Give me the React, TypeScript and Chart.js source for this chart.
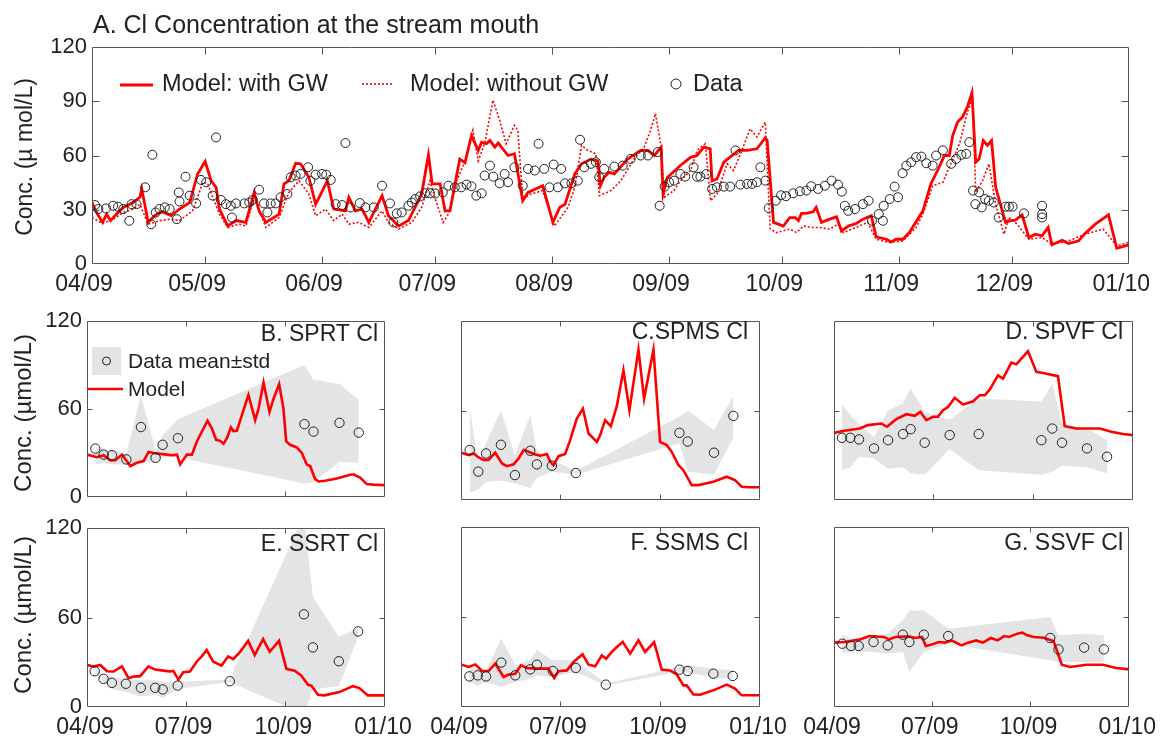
import React, { useEffect, useRef } from "react";
import { Chart, registerables } from "chart.js";

Chart.register(...registerables);

const FONT = "'Liberation Sans', Arial, Helvetica, sans-serif";
Chart.defaults.font.family = FONT;
Chart.defaults.color = "#222";

const RED = "rgb(255,0,0)";
const BAND = "#e3e4e6";
const AXIS = "#555";
const INK = "#222";

// ---------- tick definitions (days since 1 Apr 2009) ----------
const monthTicks = [0, 30, 61, 91, 122, 153, 183, 214, 244, 275];
const monthLabels = ["04/09", "05/09", "06/09", "07/09", "08/09", "09/09", "10/09", "11/09", "12/09", "01/10"];
const quarterTicks = [0, 91, 183, 275];
const quarterLabels = ["04/09", "07/09", "10/09", "01/10"];
const topYTicks = [0, 30, 60, 90, 120];
const smallYTicks = [0, 60, 120];

// ---------- Panel A : stream mouth ----------
const aGwDays = [
  0, 1.2, 2.8, 3.9, 4.9, 6.5, 8.3, 10.9, 12.7, 13.2,
  14.9, 16.6, 18.4, 21, 23.2, 25.9, 28, 30, 31.6, 32.9,
  33.8, 36, 38.2, 40.8, 43, 44.3, 46.1, 49.6, 50.9, 52.2,
  54, 55.3, 57.5, 59.3, 62.4, 64.1, 67.2, 68.1, 69.8, 71.6,
  73.4, 76.9, 78.6, 81.3, 83.9, 87.4, 89.2, 90.2, 92.3, 93.6,
  94.9, 97.5, 98.9, 100.6, 102.4, 103.3, 104.6, 105.5, 106.8, 107.7,
  110.3, 112, 114.2, 115.6, 119.5, 122.2, 124, 125.4, 128, 129.8,
  132.3, 134.1, 134.8, 135.8, 137.1, 138.5, 142, 145.5, 147.4, 149.1,
  150.9, 151.4, 152.6, 156, 158.7, 160.4, 162.2, 163.9, 164.4, 165.7,
  167.5, 171.4, 173.7, 176.3, 178.5, 179, 180.7, 183.3, 185, 186.4,
  187.3, 188.1, 189.4, 191.2, 192, 193.4, 195.6, 197.4, 198.7, 200.5,
  202.6, 204.4, 206.6, 207.9, 210.6, 211.9, 213.2, 215, 216.7, 220.3,
  222.4, 224.6, 226, 227.3, 228.2, 229.5, 230.8, 232.1, 233.3, 234.3,
  235.2, 236.3, 237.4, 238.5, 239.6, 242.2, 243.5, 244.8, 246.6, 248.4,
  250.1, 251.9, 253.5, 254.5, 257.2, 258.9, 261.6, 263.3, 266, 269.5,
  271.7, 274.8,
];
const aGwValues = [
  34, 28.5, 23, 27.6, 24, 27.6, 31.3, 34, 37, 41.5,
  23, 26.7, 29, 26.7, 30.4, 34, 49.8, 56.7, 46, 42.4,
  30.4, 21, 24, 23, 39.6, 29.4, 23, 27.6, 44.3, 46,
  55.7, 55.4, 48, 33, 46, 30.4, 29.4, 36.9, 29.4, 30.4,
  23, 37.8, 26.7, 21, 24, 38.7, 60.4, 44.3, 44.3, 29.4,
  29.4, 58, 56, 71, 62.8, 67.4, 66.5, 68.3, 64.6, 66.9,
  60, 61, 35, 39.6, 43.3, 23, 31.3, 33, 49.8, 55.4,
  58, 57, 43.3, 48, 50.7, 49.8, 58, 62.8, 62.8, 60,
  64.6, 38.7, 48, 54.5, 59, 60, 64.6, 63.7, 46, 47,
  56.3, 62.8, 62.8, 63.7, 69.8, 68.3, 23, 21, 25.7, 25.7,
  24, 28, 28, 28.9, 31.3, 23, 24.8, 26.1, 18.3, 21,
  22.4, 24.8, 26.7, 15, 13.7, 12.2, 13.7, 13.7, 17.4, 29.4,
  44.3, 53.5, 60, 60, 71, 78.5, 81.3, 86.9, 94.6, 56.3,
  58, 68.3, 65.6, 68.3, 42.4, 23, 24, 24.3, 27.2, 14.6,
  16.5, 15.6, 20.2, 10.6, 13.1, 11.3, 12.8, 16.9, 22, 27.2,
  8.7, 10.6,
];

const aNoGwDays = [
  0, 2.8, 5.6, 8.3, 10.9, 12.7, 14.9, 18, 21, 23.2,
  26.7, 29.4, 30.7, 32, 33.8, 36, 39.1, 40.8, 43, 46.1,
  49.6, 52.2, 54.9, 57.5, 59.3, 61.9, 64.1, 66.3, 68.1, 70.7,
  73.4, 76.9, 78.6, 81.3, 84.8, 87.4, 89.6, 90.9, 93.1, 94.5,
  96.7, 98.9, 101, 102.4, 104.1, 106.3, 108.1, 109.8, 112, 112.9,
  114.2, 116.4, 119.5, 122.6, 126.2, 128, 129.8, 131.4, 133.6, 134.5,
  137.6, 140.2, 143.7, 146.4, 148.1, 149.4, 150.9, 151.7, 154.3, 156,
  158.7, 160.4, 162.6, 164, 165.7, 168.4, 170.1, 172.3, 174.5, 176.3,
  178.5, 179.8, 181.5, 185, 186.8, 188.6, 191.2, 193, 195.6, 197.8,
  199.2, 202.6, 205.7, 207.9, 211.4, 215, 218.5, 220.3, 222.9, 225.6,
  227.3, 230, 232.1, 233.5, 234.3, 236.1, 237.8, 239.6, 241.8, 243.1,
  245.3, 248.4, 251.9, 254.5, 258.9, 263.3, 268.1, 271.7, 274.8,
];
const aNoGwValues = [
  25.7, 22.4, 24.8, 28.5, 30.4, 33, 22, 24, 24.8, 24,
  29.4, 45.2, 44.3, 36.9, 27.6, 20.2, 22, 21, 36.9, 20.2,
  25.7, 39.6, 46, 38.7, 26.7, 30.4, 24, 27.6, 22, 23,
  20.2, 29.4, 23, 19.3, 23, 31.3, 46, 36.9, 23, 27.6,
  46, 57, 73.9, 57, 66.5, 90.6, 79.4, 66.5, 76.7, 73.9,
  36, 38.7, 40.6, 21, 31.3, 42.4, 65.6, 62.8, 61, 37.8,
  40.6, 46, 58, 64.6, 73.9, 83.2, 64.6, 36.9, 40.6, 46,
  51.7, 62.8, 66.5, 35, 38.7, 55.4, 51.7, 62.8, 74.8, 70.2,
  78.5, 19.3, 17.4, 19.3, 17.4, 21, 20.2, 20.2, 19.3, 22,
  17.4, 20.2, 23, 13.7, 11.9, 12.8, 20.2, 27.6, 43.3, 45.2,
  53.5, 66.5, 84, 92.4, 39.6, 46, 55.4, 33, 16.5, 25.7,
  22, 13.7, 14.6, 10.9, 12.8, 16.5, 19.3, 10, 11.9,
];

const aDataDays = [
  0.8, 1.7, 3.7, 5.6, 6.9, 8.3, 9.9, 10.5, 11.8, 14.1,
  15.7, 16, 16.9, 17.9, 19.3, 20.6, 22.5, 23, 23.2, 24.8,
  25.9, 27.6, 28.9, 30.3, 32, 32.9, 34.2, 35.5, 36.8, 37.1,
  38.2, 40.4, 41.7, 42.6, 44.3, 45.6, 46.5, 47.4, 48.7, 50,
  51.8, 52.7, 54, 55.3, 57.3, 57.9, 59.3, 61, 62.1, 63.3,
  64.6, 66.3, 67.2, 68.5, 71, 72.5, 74.7, 76.9, 79, 79.9,
  80.8, 82.1, 83.9, 84.8, 85.7, 87, 88.3, 89.6, 91, 93,
  94.5, 96.2, 97.9, 99.3, 100.6, 101.9, 103.3, 104.1, 105.5, 106.4,
  108.1, 109.4, 110.3, 112, 114.2, 115.6, 117.4, 118.4, 119.9, 121.3,
  122.4, 123.5, 124.4, 125.4, 127.1, 128.8, 129.4, 130.5, 132.3, 133.6,
  134.5, 135.8, 138.5, 140.7, 142.8, 145.5, 147.4, 150, 150.5, 151.8,
  153, 154.3, 156, 157.3, 159.5, 160.4, 161.3, 162.9, 164.4, 165.7,
  167.5, 169.2, 170.6, 171.9, 173.7, 175, 176.3, 177.2, 178.5, 179.4,
  181.3, 182.7, 184, 185.9, 187.7, 189.4, 190.7, 192.5, 194.3, 196.1,
  197.8, 198.8, 199.6, 200.5, 202.3, 204.4, 205.9, 206.8, 208.6, 209.7,
  209.9, 211.5, 212.8, 213.7, 214.9, 215.9, 217.2, 218.5, 219.9, 221.2,
  222.9, 223.8, 225.6, 227.8, 229.1, 230.5, 231.8, 232.6, 233.6, 234.2,
  235.2, 235.9, 236.8, 237.8, 239.1, 240.4, 242.2, 243.1, 244.1, 247.1,
  251.9, 251.9, 251.9,
];
const aDataValues = [
  32.6, 30.4, 30.7, 32.2, 31.7, 30.4, 23.9, 33.1, 33.1, 42.4,
  22, 60.4, 28.5, 30.4, 31.3, 30.4, 24.8, 39.6, 34.6, 48.3,
  37.8, 33.5, 46.5, 45.2, 37.8, 70, 35.4, 33.1, 32.2, 25.7,
  33.5, 33.5, 34, 35.4, 41.1, 33.5, 28.5, 33.5, 33.5, 36.9,
  38.7, 48, 48.9, 49.8, 53.5, 46, 49.4, 49.8, 49.4, 46.5,
  33.1, 32.6, 66.9, 31.3, 33.7, 31.3, 31.3, 43.3, 33.5, 23,
  28, 28.5, 32.2, 34, 35.9, 37.4, 39.1, 39.1, 39, 39.6,
  43.3, 42.4, 42.4, 43.9, 43, 37.8, 39.1, 48.9, 54.4, 48.3,
  44.6, 49.8, 45.2, 53.5, 43.3, 52.6, 51.7, 66.5, 52.6, 42.4,
  55, 42.4, 52.6, 44.6, 44.6, 46.1, 68.7, 53.5, 55.4, 56.3,
  48, 52.6, 53.9, 54.4, 58.1, 60, 60, 61.9, 32.2, 42.8,
  45.2, 46.1, 49.8, 48.3, 53.5, 48.3, 48.3, 49.8, 41.5, 42.4,
  42.8, 42.8, 62.8, 43.9, 44.3, 44.3, 45.2, 53.5, 46.1, 30.9,
  35, 38, 37.5, 39.1, 40.2, 40.6, 43, 41.5, 43.3, 46.1,
  43.9, 40, 32.2, 29.4, 30.4, 33.1, 35, 23.9, 27.6, 23.9,
  32.2, 35.9, 42.8, 36.9, 50.2, 54.4, 56.3, 59.1, 59.4, 55.7,
  54.4, 60, 62.8, 55.4, 58.1, 60.4, 60.9, 67.4, 40.6, 33.1,
  39.6, 31.3, 35.9, 35, 34, 25.7, 31.7, 31.7, 31.7, 28,
  32.2, 25.7, 27.6,
];

// ---------- Panel B : SPRT ----------
const bSampleDays = [7.7, 15.4, 23, 36.3, 49.8, 63.3, 69.8, 83.9, 200.7, 209, 233, 250.8];
const bMean = [32.9, 28.8, 28.4, 25.5, 47.6, 26.6, 35.5, 40, 49.6, 44.5, 50.5, 43.8];
const bUpper = [34, 32, 32, 29, 69, 32, 42, 53, 90, 80, 77, 66];
const bLower = [22, 23, 22, 22, 24, 23, 27, 27, 9, 10, 24, 23];
const bModelDays = [
  0, 9.2, 15.4, 21.5, 26.1, 32.3, 36.3, 40, 46.1, 52.2,
  56.8, 61.5, 67.6, 73.8, 78.4, 83, 86, 92.2, 96.8, 101.4,
  106, 111.2, 115.2, 119.2, 122.9, 126, 129.1, 132.8, 135.2, 138.3,
  142.9, 149, 155.2, 158.3, 162.9, 168.4, 172.1, 177.3, 181.3, 183.8,
  187.5, 193.6, 198.2, 202.8, 205.9, 210.5, 213.6, 219.7, 230.5, 242.8,
  245.8, 252, 258.1, 264.3, 273.5, 275,
];
const bModel = [
  28.8, 27, 28.4, 24.8, 25, 28.8, 24.8, 21, 23.2, 24.4,
  30.6, 29.9, 29.3, 28.8, 28.4, 28.8, 22.1, 28.8, 28.8, 37.8,
  44.5, 51.9, 46.7, 38.9, 38.2, 36.2, 40, 47.4, 44.9, 45.1,
  55.7, 69.5, 52.3, 60.1, 78, 57.9, 66.8, 76.9, 60.1, 37.8,
  35.5, 33.7, 30, 22.1, 21, 12.1, 10.5, 11, 12.5, 15,
  15.4, 13.2, 8.7, 8.3, 8, 8,
];

// ---------- Panel C : SPMS ----------
const cSampleDays = [8, 15.9, 23, 36.7, 49.6, 63.7, 69.8, 83.6, 105.6, 200.9, 208.5, 232.7, 250.5];
const cMean = [33.5, 19, 31.2, 37, 16.7, 33, 23.9, 23, 18.1, 45, 39.2, 31.7, 56.4];
const cUpper = [62, 25, 38, 60, 30, 57, 33, 27, 19.5, 56, 60, 47, 70];
const cLower = [5, 7, 12, 13, 11, 8, 15, 19, 17, 38, 19, 17, 42];
const cModelDays = [
  0, 7, 11.6, 16.2, 20.8, 25.4, 31.5, 37.7, 42.3, 48.4,
  53, 57.6, 62.2, 66.8, 72.9, 79, 82.1, 85.1, 89.7, 95.8,
  100.4, 106.5, 112.1, 117.3, 125, 128, 132.6, 134.1, 137.8, 143.3,
  149.4, 154.9, 163.2, 168.4, 177, 183.1, 189.2, 193.8, 200, 204.5,
  212.2, 218.3, 232.1, 244.3, 252, 258.1, 264.3, 275,
];
const cModel = [
  31.7, 30.1, 31.2, 28.5, 26.8, 26.8, 31.7, 24.5, 22.7, 23.9,
  27.9, 33.5, 32.3, 30.8, 29.7, 30.8, 25.6, 23.4, 29.4, 30.8,
  40.1, 54.6, 61.3, 44.6, 39, 43.5, 53.5, 52.4, 49.5, 62.9,
  87, 60.2, 100.8, 68, 100.8, 39, 36.8, 32.3, 23.4, 20,
  10, 10, 12.3, 15.6, 13.4, 8.9, 8.5, 8.5,
];

// ---------- Panel D : SPVF ----------
const dSampleDays = [7.4, 15, 23, 36.8, 49.7, 63.5, 70.5, 83.4, 106.4, 133.1, 190.7, 200.8, 209.7, 232.7, 251.1];
const dMean = [41.7, 41.7, 40.6, 34.6, 40.1, 44.2, 47.5, 38.4, 43.5, 44.2, 40.1, 47.9, 38.4, 34.6, 29];
const dUpper = [64, 57, 51, 42, 60, 65, 75, 59, 54, 68, 66, 78, 51, 48, 40];
const dLower = [20, 22, 29, 28, 21, 22, 18, 17, 34, 20, 17, 19, 23, 22, 18];
const dModelDays = [
  0, 8.3, 23.6, 31.3, 43.5, 48.7, 57.3, 66.6, 74.2, 79.4,
  84.9, 91.1, 95.6, 100.3, 104.9, 111, 118.7, 127.9, 134, 138.6,
  143.2, 150.8, 155.4, 163.1, 167.7, 178.4, 186.1, 192.2, 206, 212.2,
  222.9, 244.4, 255.1, 265.8, 275,
];
const dModel = [
  45, 46.2, 47.9, 50.2, 51.3, 49.1, 54.2, 57.5, 56.4, 59.1,
  53.5, 55.8, 55.8, 60.2, 62.4, 68.5, 64, 66.2, 70.2, 70.2,
  74, 83.6, 81.4, 92.1, 91, 99.7, 85.9, 85.2, 83, 49.5,
  47.9, 47.9, 45.7, 44.2, 43.5,
];

// ---------- Panel E : SSRT ----------
const eSampleDays = [7.1, 15.3, 23, 35.9, 49.7, 62.9, 69.9, 83.7, 131.8, 200.2, 208.5, 232.4, 250.2];
const eMean = [24, 18.9, 16.2, 15.6, 12.9, 12.9, 11.8, 14.4, 17.3, 62.2, 40, 30.7, 50.7];
const eUpper = [27, 21, 20, 19, 18, 18, 17, 17, 18.4, 129, 74, 47, 53];
const eLower = [23, 17, 12, 10, 7, 8, 6, 12, 16.7, -5, 12, 14, 47];
const eModelDays = [
  0, 6.1, 12.3, 18.4, 24.5, 32.2, 38.3, 42.9, 49, 56.7,
  62.9, 70.5, 76.6, 79.7, 84.3, 88.9, 95, 101.2, 105.8, 110.4,
  116.5, 124.2, 130.3, 134.9, 141, 148.7, 154.8, 162.5, 168.6, 177.2,
  184, 191.6, 197.8, 203.9, 207, 213.1, 219.2, 233, 245.3, 251.4,
  259.1, 275,
];
const eModel = [
  28.2, 27.1, 28.2, 24, 23.8, 27.3, 19.3, 20.4, 20.7, 27.3,
  25.1, 24.4, 23.8, 24.2, 18.4, 23.3, 23.8, 30.4, 34, 38.2,
  30.4, 27.8, 34, 32.2, 36.7, 44.4, 34.9, 45.6, 37.1, 44.4,
  25.6, 24.4, 21.1, 14.9, 14.4, 8.2, 7.8, 10, 14, 12.7,
  7.8, 7.8,
];

// ---------- Panel F : SSMS ----------
const fSampleDays = [7.7, 15.3, 23, 37, 49.9, 63.7, 69.8, 84.5, 105.6, 133.2, 200.9, 208.5, 232.1, 249.9];
const fMean = [20.4, 21.1, 20.4, 29.6, 21.1, 25.1, 28.2, 24, 26, 14.9, 24.9, 24, 22.2, 20.7];
const fUpper = [26.7, 25.6, 24.4, 45.6, 27.8, 31.1, 37.8, 31.1, 31.1, 15.6, 26.7, 27.8, 25.6, 24.4];
const fLower = [16.7, 14.4, 16.7, 13.3, 16.7, 18.9, 21.1, 20, 23.3, 14.4, 23.3, 23.3, 19.3, 18.9];
const fModelDays = [
  0, 7, 13.2, 19.3, 25.4, 31.5, 39.2, 43.8, 49.9, 55.1,
  60.6, 68.3, 75.9, 80.5, 85.7, 89.7, 97.4, 103.5, 111.8, 117.3,
  123.4, 129.5, 133.5, 138.7, 143.3, 148.8, 155.6, 163.2, 169.3, 177.6,
  184.6, 192.3, 198.4, 204.5, 207.6, 213.7, 219.8, 232.1, 244.3, 252,
  258.1, 275,
];
const fModel = [
  28.4, 26.7, 28.4, 24, 24, 28.9, 20, 21.6, 22.2, 27.8,
  26, 25.6, 25.6, 25.6, 19.3, 23.8, 24.4, 30, 35.1, 28.2,
  27.1, 34.4, 32.2, 36.7, 40, 43.3, 35.6, 44.4, 36.7, 43.3,
  24.9, 24.4, 21.8, 14.4, 14.4, 8.4, 8.2, 11.1, 14.9, 12.2,
  7.8, 7.8,
];

// ---------- Panel G : SSVF ----------
const gSampleDays = [7.7, 15.9, 23, 36.8, 50, 64.1, 70.2, 83.7, 106.4, 201.4, 209.1, 233, 251.4];
const gMean = [42.2, 40.7, 40.7, 43.3, 41.1, 48.2, 43.3, 48.2, 47.3, 46, 38.4, 39.6, 38.4];
const gUpper = [48.2, 45.6, 45.6, 46.7, 48.9, 57.8, 64.4, 64.4, 52.2, 60, 47.8, 48.9, 47.8];
const gLower = [36, 36.7, 37.1, 36.7, 35.6, 36.7, 23.3, 36.7, 42, 31.1, 30, 30, 30];
const gModelDays = [
  0, 9.8, 23.6, 32.8, 46.6, 51.2, 57.3, 69.6, 75.7, 81.9,
  85.5, 91.1, 97.2, 103.3, 109.5, 118.7, 124.8, 132.5, 138.6, 146.2,
  152.4, 158.5, 163.1, 170.8, 175.4, 180, 186.1, 195.3, 204.5, 212.2,
  219.8, 235.2, 250.5, 262.8, 275,
];
const gModel = [
  42.9, 43.3, 44.9, 47.3, 46.7, 45.1, 46.7, 47.1, 46, 46.7,
  40.7, 41.6, 43.3, 42.9, 44.4, 41.1, 42.9, 44.4, 42.9, 46,
  44.4, 47.3, 46.7, 48.9, 49.6, 47.8, 46.7, 46.2, 44, 28.2,
  26.7, 28.2, 28.2, 26, 25.1,
];

// ---------- dataset helpers ----------
type Pt = { x: number; y: number };
const pts = (xs: number[], ys: number[]): Pt[] => xs.map((x, i) => ({ x, y: ys[i] }));

const circles = (xs: number[], ys: number[], r: number) => ({
  data: pts(xs, ys),
  showLine: false,
  pointRadius: r,
  pointHoverRadius: r,
  pointStyle: "circle",
  pointBorderColor: INK,
  pointBackgroundColor: "rgba(0,0,0,0)",
  pointBorderWidth: 1,
  borderColor: INK,
  backgroundColor: "rgba(0,0,0,0)",
  fill: false,
});

const redLine = (xs: number[], ys: number[], width: number, dash: number[] = []) => ({
  data: pts(xs, ys),
  borderColor: RED,
  borderWidth: width,
  borderDash: dash,
  pointRadius: 0,
  fill: false,
  tension: 0,
});

const bandPair = (xs: number[], up: number[], lo: number[]) => [
  {
    data: pts(xs, up),
    borderColor: "rgba(0,0,0,0)",
    borderWidth: 0,
    pointRadius: 0,
    backgroundColor: BAND,
    fill: "+1",
    tension: 0,
  },
  {
    data: pts(xs, lo),
    borderColor: "rgba(0,0,0,0)",
    borderWidth: 0,
    pointRadius: 0,
    backgroundColor: BAND,
    fill: false,
    tension: 0,
  },
];

type TextItem = { t: string; x: number; y: number; size: number; align?: CanvasTextAlign; rot?: boolean };

type PanelCfg = {
  id: string;
  left: number;
  top: number;
  w: number;
  h: number;
  area: { l: number; t: number; r: number; b: number };
  xTicks: number[];
  xLabels: string[];
  showX: boolean;
  xOffset: number;
  yTicks: number[];
  showY: boolean;
  tickLen: number;
  texts: TextItem[];
  legend: "top" | "small" | null;
  datasets: any[];
};

const smallPanel = (
  id: string, left: number, top: number, w: number, h: number,
  area: { l: number; t: number; r: number; b: number },
  showX: boolean, showY: boolean, texts: TextItem[], legend: "small" | null,
  days: number[], mean: number[], up: number[], lo: number[], mDays: number[], model: number[]
): PanelCfg => ({
  id, left, top, w, h, area,
  xTicks: quarterTicks, xLabels: quarterLabels, showX, xOffset: -2,
  yTicks: smallYTicks, showY, tickLen: 5, texts, legend,
  datasets: [circles(days, mean, 4.7), redLine(mDays, model, 2.6), ...bandPair(days, up, lo)],
});

const YLAB_SMALL = "Conc. (\u00b5mol/L)";

const PANELS: PanelCfg[] = [
  {
    id: "A", left: 0, top: 0, w: 1165, h: 300,
    area: { l: 92, t: 47, r: 1134, b: 264 },
    xTicks: monthTicks, xLabels: monthLabels, showX: true, xOffset: -8,
    yTicks: topYTicks, showY: true, tickLen: 7,
    texts: [
      { t: "A. Cl Concentration at the stream mouth", x: 93, y: 26, size: 25 },
      { t: "Conc. (\u00b5 mol/L)", x: 26, y: 157, size: 23, align: "center", rot: true },
    ],
    legend: "top",
    datasets: [
      circles(aDataDays, aDataValues, 4.5),
      redLine(aGwDays, aGwValues, 2.8),
      redLine(aNoGwDays, aNoGwValues, 1.6, [2, 2]),
    ],
  },
  smallPanel("B", 0, 300, 400, 215, { l: 87, t: 21, r: 385, b: 200 }, false, true,
    [
      { t: "B. SPRT Cl", x: 378, y: 335, size: 23, align: "right" },
      { t: YLAB_SMALL, x: 24, y: 413, size: 24, align: "center", rot: true },
    ], "small", bSampleDays, bMean, bUpper, bLower, bModelDays, bModel),
  smallPanel("C", 400, 300, 380, 215, { l: 61, t: 21, r: 360, b: 200 }, false, false,
    [{ t: "C.SPMS Cl", x: 748, y: 333, size: 23, align: "right" }], null,
    cSampleDays, cMean, cUpper, cLower, cModelDays, cModel),
  smallPanel("D", 780, 300, 385, 215, { l: 54, t: 21, r: 353, b: 200 }, false, false,
    [{ t: "D. SPVF Cl", x: 1123, y: 333, size: 23, align: "right" }], null,
    dSampleDays, dMean, dUpper, dLower, dModelDays, dModel),
  smallPanel("E", 0, 510, 430, 229, { l: 87, t: 17, r: 385, b: 197 }, true, true,
    [
      { t: "E. SSRT Cl", x: 378, y: 545, size: 23, align: "right" },
      { t: YLAB_SMALL, x: 24, y: 615, size: 24, align: "center", rot: true },
    ], null, eSampleDays, eMean, eUpper, eLower, eModelDays, eModel),
  smallPanel("F", 420, 510, 380, 229, { l: 41, t: 17, r: 340, b: 197 }, true, false,
    [{ t: "F. SSMS Cl", x: 748, y: 544, size: 23, align: "right" }], null,
    fSampleDays, fMean, fUpper, fLower, fModelDays, fModel),
  smallPanel("G", 790, 510, 375, 229, { l: 44, t: 17, r: 343, b: 197 }, true, false,
    [{ t: "G. SSVF Cl", x: 1123, y: 544, size: 23, align: "right" }], null,
    gSampleDays, gMean, gUpper, gLower, gModelDays, gModel),
];

function decorPlugin(cfg: PanelCfg) {
  return {
    id: "decor" + cfg.id,
    afterDraw(chart: any) {
      const ctx: CanvasRenderingContext2D = chart.ctx;
      const a = chart.chartArea;
      const xs = chart.scales.x;
      const ys = chart.scales.y;
      const L = Math.round(a.left) + 0.5;
      const R = Math.round(a.right) - 0.5;
      const T = Math.round(a.top) + 0.5;
      const B = Math.round(a.bottom) - 0.5;
      ctx.save();
      ctx.strokeStyle = AXIS;
      ctx.lineWidth = 1;
      ctx.beginPath();
      ctx.rect(L, T, R - L, B - T);
      const len = cfg.tickLen;
      cfg.yTicks.forEach((v) => {
        if (v <= ys.min || v >= ys.max) return;
        const py = Math.round(ys.getPixelForValue(v)) + 0.5;
        ctx.moveTo(L, py); ctx.lineTo(L + len, py);
        ctx.moveTo(R, py); ctx.lineTo(R - len, py);
      });
      cfg.xTicks.forEach((v) => {
        if (v <= xs.min || v >= xs.max) return;
        const px = Math.round(xs.getPixelForValue(v)) + 0.5;
        ctx.moveTo(px, B); ctx.lineTo(px, B - len);
        ctx.moveTo(px, T); ctx.lineTo(px, T + len);
      });
      ctx.stroke();

      const ox = cfg.left;
      const oy = cfg.top;
      ctx.fillStyle = INK;
      ctx.textBaseline = "middle";
      cfg.texts.forEach((it) => {
        ctx.font = `${it.size}px ${FONT}`;
        ctx.textAlign = it.align || "left";
        if (it.rot) {
          ctx.save();
          ctx.translate(it.x - ox, it.y - oy);
          ctx.rotate(-Math.PI / 2);
          ctx.fillText(it.t, 0, 0);
          ctx.restore();
        } else {
          ctx.fillText(it.t, it.x - ox, it.y - oy);
        }
      });

      if (cfg.legend === "top") {
        ctx.font = `23.5px ${FONT}`;
        ctx.textAlign = "left";
        ctx.strokeStyle = RED;
        ctx.lineWidth = 2.8;
        ctx.beginPath(); ctx.moveTo(120 - ox, 85 - oy); ctx.lineTo(153 - ox, 85 - oy); ctx.stroke();
        ctx.fillText("Model: with GW", 162 - ox, 85 - oy);
        ctx.lineWidth = 1.6;
        ctx.setLineDash([2, 2]);
        ctx.beginPath(); ctx.moveTo(362 - ox, 84 - oy); ctx.lineTo(392 - ox, 84 - oy); ctx.stroke();
        ctx.setLineDash([]);
        ctx.fillText("Model: without GW", 410 - ox, 85 - oy);
        ctx.strokeStyle = INK;
        ctx.lineWidth = 1;
        ctx.beginPath(); ctx.arc(676 - ox, 84 - oy, 5, 0, Math.PI * 2); ctx.stroke();
        ctx.fillText("Data", 693 - ox, 85 - oy);
      } else if (cfg.legend === "small") {
        ctx.fillStyle = BAND;
        ctx.fillRect(92 - ox, 347 - oy, 29, 28);
        ctx.strokeStyle = INK;
        ctx.lineWidth = 1;
        ctx.beginPath(); ctx.arc(106.5 - ox, 361 - oy, 4, 0, Math.PI * 2); ctx.stroke();
        ctx.fillStyle = INK;
        ctx.font = `21px ${FONT}`;
        ctx.textAlign = "left";
        ctx.fillText("Data mean\u00b1std", 128 - ox, 362 - oy);
        ctx.strokeStyle = RED;
        ctx.lineWidth = 2.6;
        ctx.beginPath(); ctx.moveTo(88 - ox, 389 - oy); ctx.lineTo(123 - ox, 389 - oy); ctx.stroke();
        ctx.fillText("Model", 128 - ox, 390 - oy);
      }
      ctx.restore();
    },
  };
}

function makeChart(canvas: HTMLCanvasElement, cfg: PanelCfg) {
  const a = cfg.area;
  return new Chart(canvas, {
    type: "line",
    data: { datasets: cfg.datasets },
    options: {
      animation: false,
      responsive: false,
      maintainAspectRatio: false,
      devicePixelRatio: 1,
      events: [],
      layout: { padding: { left: 0, top: a.t, right: cfg.w - a.r, bottom: 0 } },
      plugins: { legend: { display: false }, tooltip: { enabled: false }, title: { display: false } },
      scales: {
        x: {
          type: "linear",
          min: 0,
          max: 275,
          grid: { display: false, drawTicks: false },
          border: { display: false },
          afterBuildTicks: (axis: any) => {
            axis.ticks = cfg.xTicks.map((v) => ({ value: v }));
          },
          afterFit: (s: any) => {
            s.height = cfg.h - a.b;
          },
          ticks: {
            display: cfg.showX,
            autoSkip: false,
            maxRotation: 0,
            minRotation: 0,
            padding: 7,
            labelOffset: cfg.xOffset,
            color: INK,
            font: { size: 23, family: FONT },
            callback: (v: any) => {
              const i = cfg.xTicks.indexOf(Number(v));
              return i >= 0 ? cfg.xLabels[i] : "";
            },
          },
        },
        y: {
          type: "linear",
          min: 0,
          max: 120,
          grid: { display: false, drawTicks: false },
          border: { display: false },
          afterBuildTicks: (axis: any) => {
            axis.ticks = cfg.yTicks.map((v) => ({ value: v }));
          },
          afterFit: (s: any) => {
            s.width = a.l;
          },
          ticks: {
            display: cfg.showY,
            padding: 5,
            color: INK,
            font: { size: 22, family: FONT },
            callback: (v: any) => String(v),
          },
        },
      },
    } as any,
    plugins: [decorPlugin(cfg)],
  });
}

function Panel({ cfg }: { cfg: PanelCfg }) {
  const ref = useRef<HTMLCanvasElement>(null);
  useEffect(() => {
    if (!ref.current) return;
    const ch = makeChart(ref.current, cfg);
    return () => ch.destroy();
  }, [cfg]);
  return (
    <canvas
      ref={ref}
      width={cfg.w}
      height={cfg.h}
      style={{ position: "absolute", left: cfg.left, top: cfg.top, width: cfg.w, height: cfg.h }}
    />
  );
}

export default function App() {
  return (
    <div
      style={{
        position: "absolute",
        left: 0,
        top: 0,
        width: 1165,
        height: 739,
        background: "#fff",
        overflow: "hidden",
      }}
    >
      {PANELS.map((p) => (
        <Panel key={p.id} cfg={p} />
      ))}
    </div>
  );
}
